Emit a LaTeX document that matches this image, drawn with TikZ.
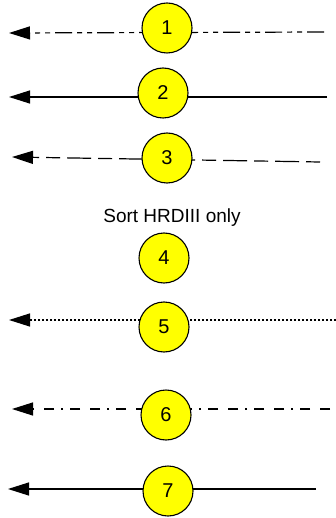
\documentclass[tikz,border=0pt]{standalone}
\usepackage{fontspec}
\setmainfont{Liberation Sans}
\usetikzlibrary{arrows.meta}
\definecolor{ball}{HTML}{FFFF00}
\tikzset{
  x=1pt, y=-1pt,
  num/.style={circle, draw=black, line width=1.1pt, fill=ball, minimum size=50pt, inner sep=0pt, font=\fontsize{20}{22}\selectfont},
  conn/.style={line width=1.2pt, -{Triangle[length=21pt,width=13pt]}},
}
\begin{document}
\begin{tikzpicture}
\useasboundingbox (0,0) rectangle (336,518);
% coordinates
\coordinate (r1) at (324,32); \coordinate (l1) at (9,33);
\coordinate (r2) at (327,97); \coordinate (l2) at (9,97);
\coordinate (r3) at (320,162); \coordinate (l3) at (12,157);
\coordinate (r5) at (336,320); \coordinate (l5) at (9,320);
\coordinate (r6) at (330,409); \coordinate (l6) at (12,409);
\coordinate (r7) at (316,489); \coordinate (l7) at (8,489);
% connectors
\draw[conn, dash pattern=on 17pt off 5pt on 5pt off 5pt on 5pt off 5pt] (r1) -- (l1);
\draw[conn] (r2) -- (l2);
\draw[conn, dash pattern=on 14pt off 7pt on 24pt off 7pt] (r3) -- (l3);
\draw[conn, dash pattern=on 2.5pt off 1.5pt] (r5) -- (l5);
\draw[conn, dash pattern=on 10pt off 10pt on 10pt off 7pt on 2pt off 7pt] (r6) -- (l6);
\draw[conn] (r7) -- (l7);
% nodes
\node[num] (n1) at (167,28) {1};
\node[num] (n2) at (163,93) {2};
\node[num] (n3) at (167,158) {3};
\node (t4) at (172,218) {\fontsize{19}{22}\selectfont Sort HRDIII only};
\node[num] (n4) at (164,258) {4};
\node[num] (n5) at (164,327) {5};
\node[num] (n6) at (166,415) {6};
\node[num] (n7) at (168,491) {7};
\end{tikzpicture}
\end{document}
